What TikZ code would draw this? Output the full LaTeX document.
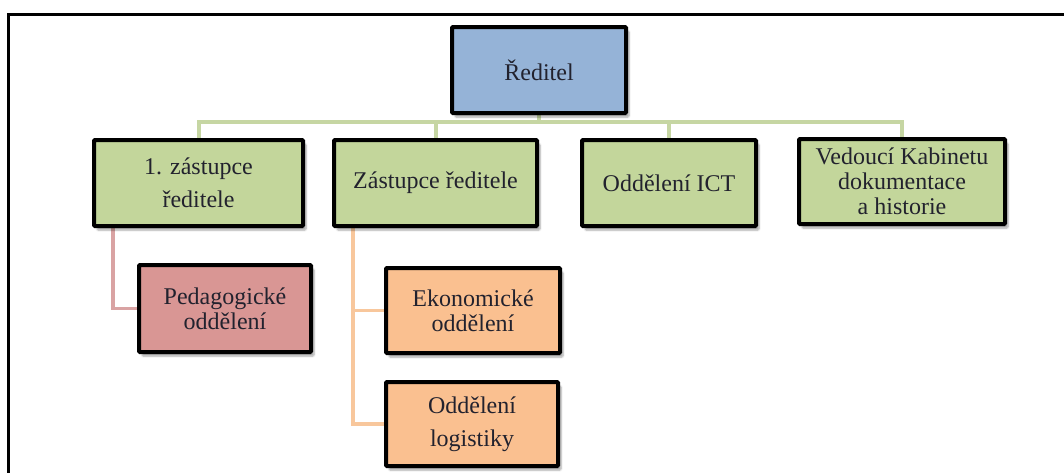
\documentclass[tikz,border=0pt]{standalone}
\usepackage{fontspec}
\setmainfont{Liberation Serif}
\usetikzlibrary{shadows.blur,backgrounds}
\definecolor{boxblue}{HTML}{95B3D7}
\definecolor{boxgreen}{HTML}{C3D69B}
\definecolor{boxpink}{HTML}{D99694}
\definecolor{boxorange}{HTML}{FAC090}
\definecolor{linegreen}{HTML}{C6D6A3}
\definecolor{linepink}{HTML}{D9A3A3}
\definecolor{lineorange}{HTML}{F8C79C}
\definecolor{txt}{HTML}{22222E}
\tikzset{
  orgbox/.style={draw=black, line width=4pt, rounded corners=1pt, inner sep=0pt,
    align=center, text=txt, font=\fontsize{24}{25}\selectfont,
    blur shadow={shadow xshift=3pt, shadow yshift=-4pt, shadow blur steps=6, shadow opacity=35}},
  greenln/.style={draw=linegreen, line width=4pt},
  pinkln/.style={draw=linepink, line width=3.5pt},
  orangeln/.style={draw=lineorange, line width=3.5pt},
}
\begin{document}
\begin{tikzpicture}[x=1pt, y=-1pt]
\useasboundingbox (0,0) rectangle (1064,472);
\clip (0,0) rectangle (1064,472);
% outer frame
\draw[line width=3pt] (8,480) -- (8,14) -- (1070,14);
% nodes
\node[orgbox, fill=boxblue, minimum width=174pt, minimum height=86pt] (dir) at (539,70) {Ředitel};
\node[orgbox, fill=boxgreen, minimum width=209pt, minimum height=86pt] (b1) at (198.5,183) {1. zástupce\\[8pt]ředitele};
\node[orgbox, fill=boxgreen, minimum width=203pt, minimum height=86pt] (b2) at (435.5,183) {Zástupce ředitele};
\node[orgbox, fill=boxgreen, minimum width=174pt, minimum height=86pt] (b3) at (669,183) {Oddělení ICT};
\node[orgbox, fill=boxgreen, minimum width=206pt, minimum height=85pt] (b4) at (902,181.5) {Vedoucí Kabinetu\\dokumentace\\a historie};
\node[orgbox, fill=boxpink, minimum width=172pt, minimum height=87pt] (ped) at (225,308.5) {Pedagogické\\oddělení};
\node[orgbox, fill=boxorange, minimum width=174pt, minimum height=85pt] (eko) at (473,310.5) {Ekonomické\\oddělení};
\node[orgbox, fill=boxorange, minimum width=172pt, minimum height=84pt] (log) at (472,424) {Oddělení\\[8pt]logistiky};
% connectors (behind the boxes)
\begin{pgfonlayer}{background}
\coordinate (bar) at (0,122);
\draw[greenln] (dir.south) -- (dir.south |- bar);
\draw[greenln] (b1.north) -- (b1.north |- bar) -- (b4.north |- bar) -- (b4.north);
\draw[greenln] (b2.north) -- (b2.north |- bar);
\draw[greenln] (b3.north) -- (b3.north |- bar);
\coordinate (p0) at ([xshift=21pt]b1.south west);
\coordinate (o0) at ([xshift=21pt]b2.south west);
\draw[pinkln] (p0) |- (ped.west);
\draw[orangeln] (o0) |- (eko.west);
\draw[orangeln] (o0) |- (log.west);
\end{pgfonlayer}
\end{tikzpicture}
\end{document}
